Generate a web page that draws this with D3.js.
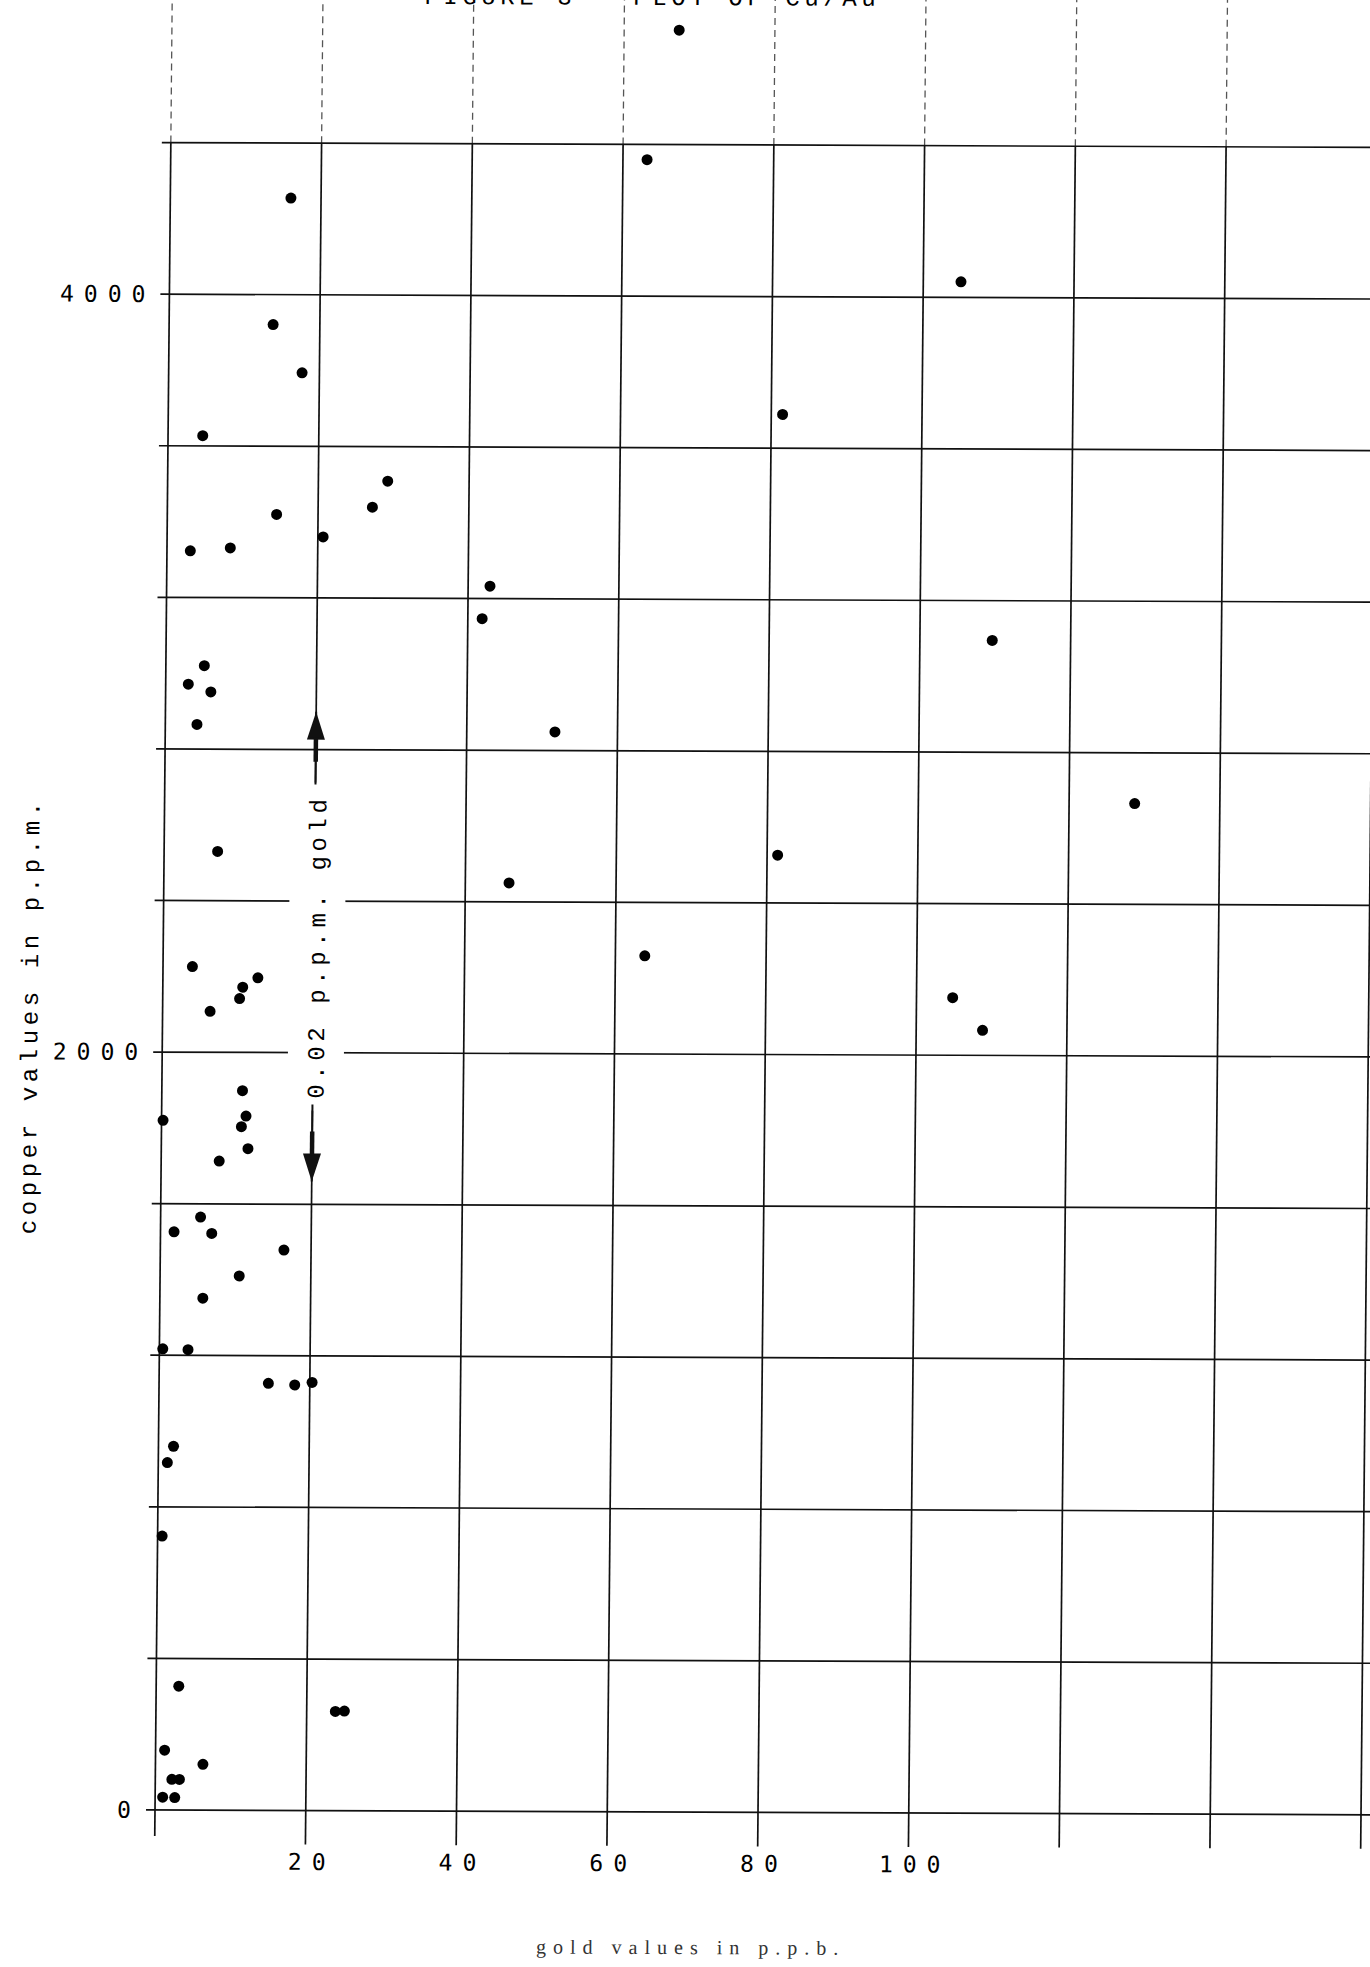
<!DOCTYPE html>
<meta charset="utf-8">
<script src="https://d3js.org/d3.v7.min.js"></script>
<style type="text/css">
    body {
        margin: 0;
        background: #fff;
    }

    svg {
        display: block;
        background-color: #FFF;
    }

    .grid line {
        stroke: #111;
        stroke-width: 1.7;
    }

    .grid line.top {
        stroke: #555;
        stroke-width: 1.3;
        stroke-dasharray: 7, 5;
    }

    .axis text {
        fill: #000;
        font-family: "DejaVu Sans Mono", monospace;
        font-size: 23px;
        letter-spacing: 10px;
    }

    .typed {
        fill: #000;
        font-family: "Liberation Mono", monospace;
        font-size: 24px;
        letter-spacing: 4.6px;
    }

    .xtitle {
        fill: #333;
        font-family: "Liberation Serif", serif;
        font-size: 20px;
        letter-spacing: 7px;
    }
</style>

<body>
</body>

<script>

// gold (p.p.b.) and copper (p.p.m.), one entry per sample
var goldPpb = [
    67.3, 63.2, 105.0, 81.5, 42.9, 41.9, 109.6, 51.7, 128.7, 81.4,
    45.8, 63.9, 104.8, 108.8,
    16.0, 13.8, 17.7, 4.6, 29.2, 27.2, 14.5, 20.7, 3.1, 8.4,
    5.1, 3.0, 6.0, 4.2, 7.1,
    3.9, 12.6, 10.6, 10.2, 6.3,
    10.7, 0.2, 11.2, 10.6, 11.5, 7.7,
    5.3, 1.8, 6.8, 16.4, 10.5, 5.7,
    0.45, 3.8, 14.5, 18.0, 20.3,
    2.0, 1.2, 0.6,
    3.0, 23.8, 25.0, 1.2, 6.3, 2.2, 3.2, 1.0, 2.6
];
var copperPpm = [
    4702, 4360, 4041, 3689, 3233, 3147, 3095, 2849, 2666, 2526,
    2450, 2259, 2152, 2066,
    4255, 3921, 3794, 3627, 3509, 3440, 3420, 3361, 3323, 3331,
    3020, 2971, 2951, 2865, 2530,
    2226, 2197, 2172, 2142, 2108,
    1899, 1820, 1832, 1804, 1746, 1713,
    1565, 1526, 1522, 1479, 1410, 1351,
    1217, 1215, 1127, 1123, 1130,
    960, 917, 723,
    327, 262, 263, 158, 121, 81, 81, 34, 33
];

var xTickValues = [20, 40, 60, 80, 100];
var yTickValues = [0, 2000, 4000];
var xGridValues = d3.range(0, 161, 20);
var yGridValues = d3.range(0, 4401, 400);

// 0.02 p.p.m. gold marker and where its arrows point
var goldLimit = 20;
var arrowTips = [2900, 1660];

var width = 1370;
var height = 1967;

var x = d3.scaleLinear().domain([0, 160]).range([155, 1361]);
var y = d3.scaleLinear().domain([0, 4400]).range([1810, 142.6]);

var svg = d3.select("body")
    .append("svg")
    .attr("width", width)
    .attr("height", height);

// the scanned sheet is slightly skewed
var kx = 0.0095, ky = 0.004;
var g = svg.append("g")
    .attr("transform", "matrix(1," + ky + "," + (-kx) + ",1," + (kx * y(0)) + "," + (-ky * x(0)) + ")");

// title, mostly cut off at the top of the page
g.append("text")
    .attr("class", "typed")
    .attr("x", 635)
    .attr("y", 3)
    .attr("text-anchor", "middle")
    .text("FIGURE 3 - PLOT OF Cu/Au");

var grid = g.append("g").attr("class", "grid");

grid.selectAll("line.v")
    .data(xGridValues)
    .enter().append("line")
    .attr("class", "v")
    .attr("x1", function (d) { return x(d); })
    .attr("x2", function (d) { return x(d); })
    .attr("y1", function (d) { return y(0) + (d === 0 ? 26 : 34); })
    .attr("y2", y(4400));

grid.selectAll("line.top")
    .data(xGridValues)
    .enter().append("line")
    .attr("class", "top")
    .attr("x1", function (d) { return x(d); })
    .attr("x2", function (d) { return x(d); })
    .attr("y1", y(4400))
    .attr("y2", -20);

grid.selectAll("line.h")
    .data(yGridValues)
    .enter().append("line")
    .attr("class", "h")
    .attr("x1", x(0) - 9)
    .attr("x2", width + 20)
    .attr("y1", function (d) { return y(d); })
    .attr("y2", function (d) { return y(d); });

// tick labels
var yAxis = d3.axisLeft(y)
    .tickValues(yTickValues)
    .tickFormat(d3.format("d"))
    .tickSize(0)
    .tickPadding(14);

var xAxis = d3.axisBottom(x)
    .tickValues(xTickValues)
    .tickFormat(d3.format("d"))
    .tickSize(0)
    .tickPadding(43);

g.append("g")
    .attr("class", "y axis")
    .attr("transform", "translate(" + x(0) + ",0)")
    .call(yAxis)
    .call(function (s) { s.select(".domain").remove(); });

g.append("g")
    .attr("class", "x axis")
    .attr("transform", "translate(0," + y(0) + ")")
    .call(xAxis)
    .call(function (s) { s.select(".domain").remove(); })
    .selectAll("text")
    .attr("dx", 6);

g.selectAll(".axis text").attr("fill", "#000");

// axis titles
g.append("text")
    .attr("class", "xtitle")
    .attr("x", 692)
    .attr("y", 1952)
    .attr("text-anchor", "middle")
    .text("gold values in p.p.b.");

g.append("text")
    .attr("class", "typed")
    .attr("transform", "translate(30," + ((y(0) + y(4400)) / 2 + 40) + ") rotate(-90)")
    .attr("text-anchor", "middle")
    .text("copper values in p.p.m.");

// 0.02 p.p.m. gold annotation on the 20 p.p.b. line
var ax = x(goldLimit);
var midY = y((arrowTips[0] + arrowTips[1]) / 2);
var halfLen = 164;

g.append("rect")
    .attr("x", ax - 25)
    .attr("y", midY - halfLen)
    .attr("width", 56)
    .attr("height", halfLen * 2)
    .attr("fill", "#fff");

g.append("text")
    .attr("class", "typed")
    .attr("transform", "translate(" + (ax + 11) + "," + midY + ") rotate(-90)")
    .attr("text-anchor", "middle")
    .text("0.02 p.p.m. gold");

var ann = g.append("g").attr("class", "arrows");

ann.append("line")
    .attr("x1", ax).attr("x2", ax)
    .attr("y1", midY - halfLen + 2)
    .attr("y2", y(arrowTips[0]))
    .attr("stroke", "#111").attr("stroke-width", 2);

ann.append("line")
    .attr("x1", ax).attr("x2", ax)
    .attr("y1", midY + halfLen - 6)
    .attr("y2", y(arrowTips[1]))
    .attr("stroke", "#111").attr("stroke-width", 2);

arrowTips.forEach(function (t, i) {
    var tip = y(t);
    var dir = i === 0 ? 1 : -1;   // 1: pointing up, -1: pointing down
    ann.append("path")
        .attr("d", "M" + ax + "," + tip +
            "L" + (ax - 9) + "," + (tip + dir * 28) +
            "L" + (ax + 9) + "," + (tip + dir * 28) + "Z")
        .attr("fill", "#111");
    ann.append("line")
        .attr("x1", ax).attr("x2", ax)
        .attr("y1", tip + dir * 26)
        .attr("y2", tip + dir * 50)
        .attr("stroke", "#111").attr("stroke-width", 4.5);
});

// samples
g.append("g")
    .attr("class", "dots")
    .selectAll("circle")
    .data(goldPpb)
    .enter().append("circle")
    .attr("cx", function (d) { return x(d); })
    .attr("cy", function (d, i) { return y(copperPpm[i]); })
    .attr("r", 5.5)
    .attr("fill", "#000");

</script>
